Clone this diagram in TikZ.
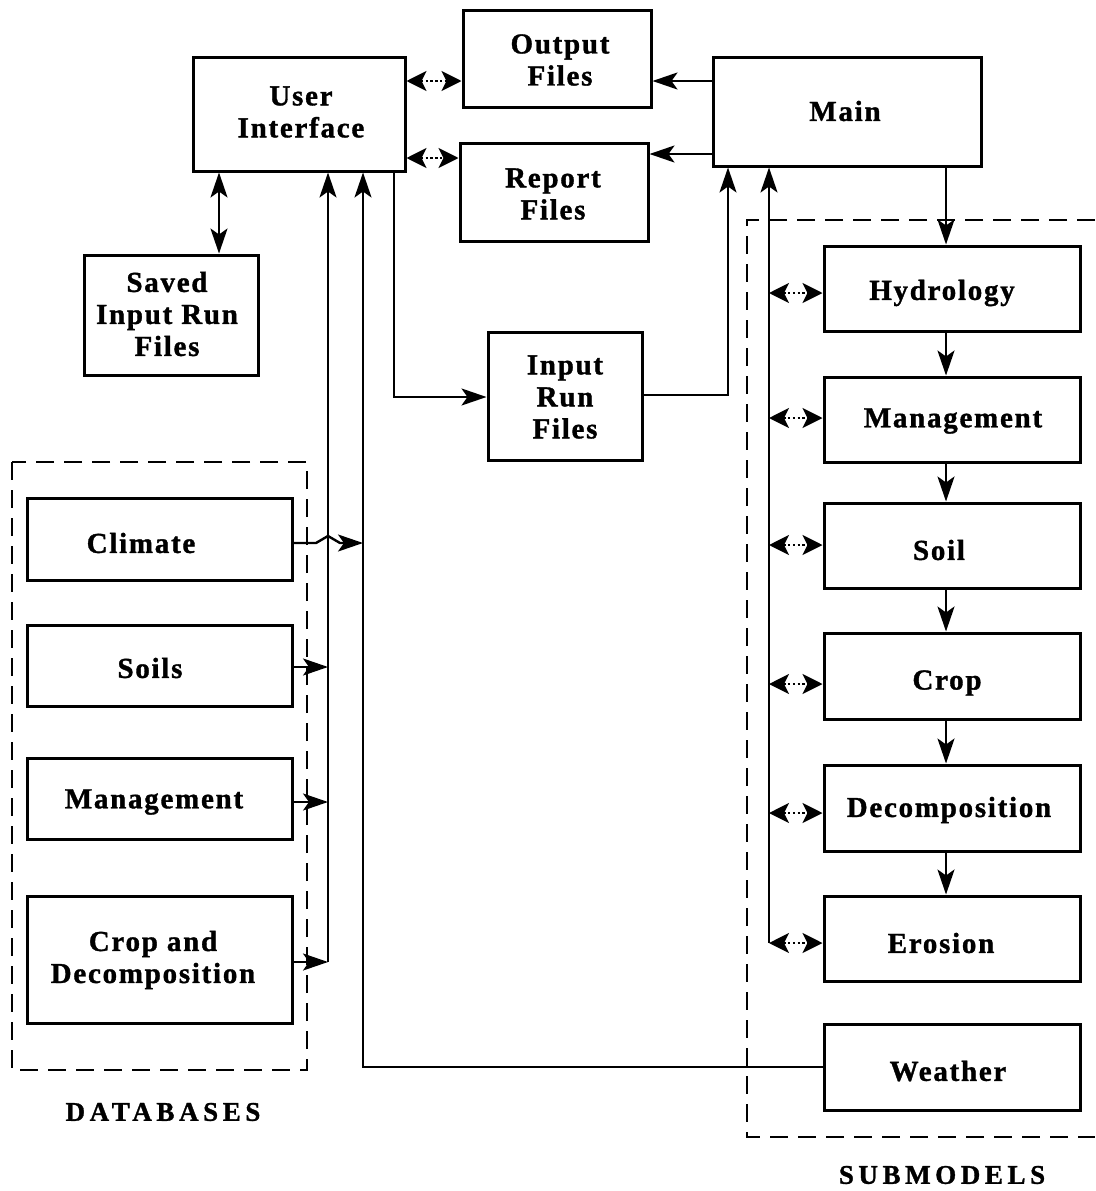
\documentclass[tikz,border=0pt]{standalone}
\usepackage{fontspec}
\setmainfont{Liberation Serif}[LetterSpace=6, BoldFeatures={FakeBold=1.2}]
\newfontfamily\capsfont{Liberation Serif}[LetterSpace=17, BoldFeatures={FakeBold=1.2}]
\usetikzlibrary{arrows.meta}
\tikzset{
  box/.style={draw, line width=3pt, inner sep=0pt},
  txt/.style={align=center, inner sep=0pt, font=\fontsize{29}{32}\selectfont\bfseries},
  lbl/.style={inner sep=0pt, font=\capsfont\fontsize{27}{30}\selectfont\bfseries},
  tip/.tip={Stealth[length=25pt,width=17pt,inset=6pt]},
  dtip/.tip={Stealth[length=20pt,width=20pt,inset=5pt]},
  conn/.style={line width=2.4pt, -tip},
  dconn/.style={line width=2.4pt, tip-tip},
  dotconn/.style={line width=2.4pt, dash pattern=on 2.4pt off 2.4pt, dtip-dtip},
  grp/.style={draw, line width=2.4pt, dash pattern=on 18pt off 10pt},
}
% name, x1, y1, x2, y2, text x, text y, text
\newcommand{\bx}[8]{%
  \node[box, minimum width={#4-#2}, minimum height={#5-#3}] (#1) at ({(#2+#4)/2},{(#3+#5)/2}) {};
  \node[txt] (#1-t) at (#6,#7) {#8};}
\begin{document}
\begin{tikzpicture}[x=1pt,y=-1pt]
\useasboundingbox (0,0) rectangle (1095,1191);
% group boxes
\draw[grp] (12,462) rectangle (307,1070);
\draw[grp] (1095,220) -- (747,220) -- (747,1137) -- (1095,1137);
% top boxes
\bx{ui}{193}{57}{405}{171}{301}{112}{User\\Interface}
\bx{out}{463}{10}{651}{107}{560}{60}{Output\\Files}
\bx{rep}{460}{143}{648}{241}{553}{194}{Report\\Files}
\bx{main}{713}{57}{981}{166}{845}{111}{Main}
\bx{saved}{84}{255}{258}{375}{167}{314}{Saved\\Input Run\\Files}
\bx{inrun}{488}{332}{642}{460}{565}{397}{Input\\Run\\Files}
% databases
\bx{clim}{27}{498}{292}{580}{141}{543}{Climate}
\bx{soils}{27}{625}{292}{706}{150}{668}{Soils}
\bx{mgdb}{27}{758}{292}{839}{154}{802}{Management}
\bx{cropdb}{27}{896}{292}{1023}{153}{960}{Crop and\\Decomposition}
\node[lbl] (dblbl) at (163,1112) {DATABASES};
% submodels
\bx{hyd}{824}{246}{1080}{331}{942}{293}{Hydrology}
\bx{mgs}{824}{377}{1080}{462}{953}{421}{Management}
\bx{soil}{824}{503}{1080}{588}{939}{550}{Soil}
\bx{crop}{824}{633}{1080}{719}{947}{683}{Crop}
\bx{dec}{824}{765}{1080}{851}{949}{810}{Decomposition}
\bx{ero}{824}{896}{1080}{981}{941}{943}{Erosion}
\bx{wea}{824}{1024}{1080}{1110}{948}{1071}{Weather}
\node[lbl] (smlbl) at (942,1175) {SUBMODELS};
% bus coordinates
\coordinate (busL) at (328,962);
\coordinate (busW) at (363,1067);
\coordinate (busR) at (769,943);
% connectors top
\draw[dotconn] (ui.east |- 0,81) -- (out.west |- 0,81);
\draw[dotconn] (ui.east |- 0,158) -- (rep.west |- 0,158);
\draw[conn] (main.west |- 0,81) -- (out.east |- 0,81);
\draw[conn] (main.west |- 0,154) -- (rep.east |- 0,154);
\draw[dconn] (ui.south -| 219,0) -- (saved.north -| 219,0);
\draw[conn] (ui.south -| 394,0) |- (inrun.west |- 0,397);
\draw[conn] (inrun.east |- 0,395) -| (main.south -| 728,0);
\draw[conn] (main.south -| 946,0) -- (hyd.north -| 946,0);
% submodel chain
\draw[conn] (hyd.south -| 946,0) -- (mgs.north -| 946,0);
\draw[conn] (mgs.south -| 946,0) -- (soil.north -| 946,0);
\draw[conn] (soil.south -| 946,0) -- (crop.north -| 946,0);
\draw[conn] (crop.south -| 946,0) -- (dec.north -| 946,0);
\draw[conn] (dec.south -| 946,0) -- (ero.north -| 946,0);
% submodel bus
\draw[conn] (busR) -- (main.south -| busR);
\foreach \n/\y in {hyd/293, mgs/418, soil/545, crop/684, dec/813, ero/943}
  \draw[dotconn] (769,\y) -- (\n.west |- 0,\y);
% weather to UI
\draw[conn] (wea.west |- busW) -- (busW) -- (ui.south -| busW);
% database bus
\draw[conn] (busL) -- (ui.south -| busL);
\draw[conn] (soils.east |- 0,667) -- (328,667);
\draw[conn] (mgdb.east |- 0,802) -- (328,802);
\draw[conn] (cropdb.east |- 0,962) -- (busL);
% climate with jump over the bus
\draw[conn] (clim.east |- 0,543) -- (316,543) -- (328,536) -- (340,543) -- (363,543);
\end{tikzpicture}
\end{document}
